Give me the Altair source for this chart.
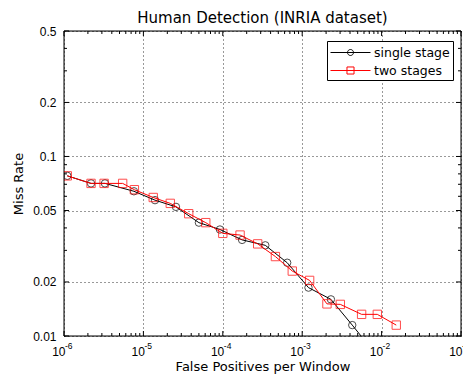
import altair as alt
import pandas as pd

# ---- data ----
single_x = [1.1e-6, 2.19e-6, 3.28e-6, 7.6e-6, 1.4e-5, 2.57e-5, 5.0e-5, 9.2e-5,
            1.75e-4, 3.43e-4, 6.47e-4, 1.2e-3, 2.3e-3, 4.27e-3, 7.1e-3]
single_y = [0.078, 0.0708, 0.0708, 0.064, 0.0571, 0.0524, 0.0428, 0.0392,
            0.0343, 0.032, 0.0256, 0.0186, 0.016, 0.0115, 0.0087]
two_x = [1.1e-6, 2.19e-6, 3.2e-6, 5.48e-6, 7.7e-6, 1.33e-5, 2.18e-5, 3.72e-5,
         6.1e-5, 1.0e-4, 1.65e-4, 2.75e-4, 4.6e-4, 7.5e-4, 1.24e-3, 2.05e-3,
         3.02e-3, 5.6e-3, 8.83e-3, 1.53e-2]
two_y = [0.078, 0.0708, 0.0708, 0.0708, 0.0653, 0.0591, 0.0548, 0.048,
         0.0428, 0.0373, 0.0365, 0.0326, 0.0277, 0.023, 0.0204, 0.0151,
         0.015, 0.0132, 0.0132, 0.0115]
series_names = ["single stage", "two stages"]
series_colors = ["#000000", "#ff0000"]

x_major = [1e-6, 1e-5, 1e-4, 1e-3, 1e-2, 1e-1]
x_exponents = ["-6", "-5", "-4", "-3", "-2", "-1"]
x_minor = [k * d for d in [1e-6, 1e-5, 1e-4, 1e-3, 1e-2] for k in range(2, 10)]
y_major = [0.01, 0.02, 0.05, 0.1, 0.2, 0.5]
y_minor = [0.03, 0.04, 0.06, 0.07, 0.08, 0.09, 0.3, 0.4]

W, H = 397, 305
FONT = "Liberation Sans"
TFONT = "DejaVu Sans"

df = pd.DataFrame({
    "fppw": single_x + two_x,
    "miss": single_y + two_y,
    "series": [series_names[0]] * len(single_x) + [series_names[1]] * len(two_x),
})

xscale = alt.Scale(type="log", domain=[1e-6, 1e-1], nice=False)
yscale = alt.Scale(type="log", domain=[0.01, 0.5], nice=False)

xaxis = alt.Axis(values=x_major, labelExpr="'10'", title="False Positives per Window",
                 grid=True, gridDash=[1, 3], gridColor="#000000", gridOpacity=0.8,
                 ticks=False, tickSize=0, domain=False, labelFont=FONT, labelFontSize=12,
                 labelColor="#000000", labelAlign="right", labelOffset=1,
                 titleFont=TFONT, titleFontSize=13,
                 titleFontWeight="normal", titleColor="#000000", labelPadding=10,
                 titlePadding=3, labelFlush=False, labelOverlap=False)
yaxis = alt.Axis(values=y_major, format="~g", title="Miss Rate",
                 grid=True, gridDash=[1, 3], gridColor="#000000", gridOpacity=0.8,
                 ticks=False, tickSize=0, domain=False, labelFont=FONT, labelFontSize=12,
                 labelColor="#000000", titleFont=TFONT, titleFontSize=13,
                 titleFontWeight="normal", titleColor="#000000", labelPadding=8,
                 titlePadding=7, labelFlush=False, labelOverlap=False)

XE = alt.X("fppw:Q", scale=xscale, axis=xaxis)
YE = alt.Y("miss:Q", scale=yscale, axis=yaxis)

base = alt.Chart(df)

def series_layers(name, color, shape, size):
    sub = base.transform_filter(alt.datum.series == name)
    line = sub.mark_line(color=color, strokeWidth=1, clip=True).encode(x=XE, y=YE)
    pts = sub.mark_point(shape=shape, color=color, size=size, filled=False,
                         strokeWidth=1, clip=True).encode(x=XE, y=YE)
    return [line, pts]

layers = []

# frame around the plot area
frame = alt.Chart(pd.DataFrame({"fppw": [x_major[0]], "miss": [y_major[0]]}))
layers.append(frame.mark_rect(fill=None, stroke="#000000", strokeWidth=1).encode(
    x=alt.value(0), x2=alt.value(W), y=alt.value(0), y2=alt.value(H)))

layers += series_layers(series_names[0], series_colors[0], "circle", 55)
layers += series_layers(series_names[1], series_colors[1], "square", 70)

# tick marks drawn inside the frame
def xticks(vals, length):
    d = alt.Chart(pd.DataFrame({"fppw": vals}))
    return [
        d.mark_rule(color="#000000", strokeWidth=1).encode(x=XE, y=alt.value(H), y2=alt.value(H - length)),
        d.mark_rule(color="#000000", strokeWidth=1).encode(x=XE, y=alt.value(0), y2=alt.value(length)),
    ]

def yticks(vals, length):
    d = alt.Chart(pd.DataFrame({"miss": vals}))
    return [
        d.mark_rule(color="#000000", strokeWidth=1).encode(y=YE, x=alt.value(0), x2=alt.value(length)),
        d.mark_rule(color="#000000", strokeWidth=1).encode(y=YE, x=alt.value(W), x2=alt.value(W - length)),
    ]

layers += xticks(x_major, 5) + xticks(x_minor, 3)
layers += yticks(y_major, 5) + yticks(y_minor, 3)

# superscript exponents of the x tick labels
sup = alt.Chart(pd.DataFrame({"fppw": x_major, "exp": x_exponents})).mark_text(
    align="left", baseline="alphabetic", font=FONT, fontSize=8.5, color="#000000", dx=1
).encode(x=XE, y=alt.value(H + 13), text="exp:N")
layers.append(sup)

# legend (line + marker symbols); path units are 8 px with symbolSize 256
circle_path = "M-1,0L4,0M1.875,0A0.375,0.375 0 1,1 1.125,0A0.375,0.375 0 1,1 1.875,0"
square_path = "M-1,0L4,0M1.06,-0.44L1.94,-0.44L1.94,0.44L1.06,0.44Z"
leg = alt.Legend(orient="none", legendX=263, legendY=10, title=None,
                 fillColor="white", strokeColor="black", padding=3,
                 symbolSize=256, symbolStrokeWidth=1, symbolOpacity=1,
                 labelFont=TFONT, labelFontSize=12.5, labelColor="#000000",
                 labelOffset=27, rowPadding=3, cornerRadius=0)
legend_layer = base.mark_point(opacity=0, filled=False).encode(
    x=XE, y=YE,
    color=alt.Color("series:N", scale=alt.Scale(domain=series_names, range=series_colors), legend=leg),
    shape=alt.Shape("series:N", scale=alt.Scale(domain=series_names, range=[circle_path, square_path]), legend=leg),
)
layers.append(legend_layer)

chart = alt.layer(*layers).properties(
    width=W, height=H,
    title=alt.TitleParams("Human Detection (INRIA dataset)", font=TFONT, fontSize=15,
                          fontWeight="normal", color="#000000", anchor="middle",
                          frame="group", offset=-1),
    autosize=alt.AutoSizeParams(type="none"),
    padding={"left": 56, "top": 23, "right": 2, "bottom": 38},
).configure_view(stroke=None).configure(background="white")

chart.save("out.html", embed_options={"renderer": "svg", "actions": False})
